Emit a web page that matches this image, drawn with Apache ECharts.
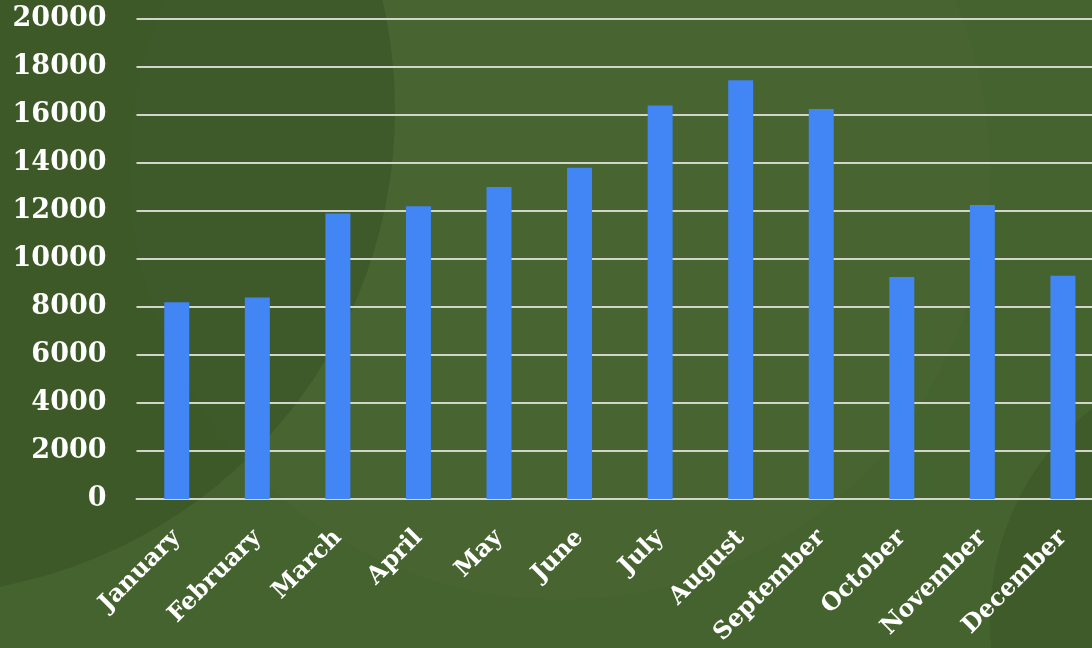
<!DOCTYPE html>
<html>
<head>
<meta charset="utf-8">
<script src="https://cdn.jsdelivr.net/npm/echarts@6/dist/echarts.min.js"></script>
<style>
html,body{margin:0;padding:0;background:#45632f;}
#chart{width:1092px;height:648px;}
</style>
</head>
<body>
<div id="chart"></div>
<script>
var categories = ["January","February","March","April","May","June","July","August","September","October","November","December"];
var values = [8200, 8400, 11900, 12200, 13000, 13800, 16400, 17450, 16250, 9250, 12250, 9300];
var yTicks = [0, 2000, 4000, 6000, 8000, 10000, 12000, 14000, 16000, 18000, 20000];

var chart = echarts.init(document.getElementById('chart'));
var fontFam = '"DejaVu Serif", "Liberation Serif", serif';
chart.setOption({
  backgroundColor: '#45632f',
  animation: false,
  graphic: [
    { type: 'circle', z: -10, silent: true, shape: { cx: 560, cy: 170, r: 430 }, style: { fill: 'rgba(255,255,255,0.012)' } },
    { type: 'circle', z: -9, silent: true, shape: { cx: -90, cy: 110, r: 485 }, style: { fill: 'rgba(25,45,10,0.18)' } },
    { type: 'circle', z: -9, silent: true, shape: { cx: 1260, cy: 620, r: 270 }, style: { fill: 'rgba(25,45,10,0.14)' } }
  ],
  grid: { left: 136.5, width: 966.7, top: 19, height: 480, containLabel: false, outerBoundsMode: 'none' },
  xAxis: {
    type: 'category',
    data: categories,
    axisLine: { show: true, lineStyle: { color: '#d4d4cc', width: 2 } },
    axisTick: { show: false },
    axisLabel: {
      rotate: 45,
      interval: 0,
      margin: 35,
      color: '#ffffff',
      fontFamily: fontFam,
      fontWeight: 'bold',
      fontSize: 24
    }
  },
  yAxis: {
    type: 'value',
    min: 0,
    max: 20000,
    interval: 2000,
    axisLine: { show: false },
    axisTick: { show: false },
    splitLine: { lineStyle: { color: '#d4d4cc', width: 2 } },
    axisLabel: {
      margin: 30,
      color: '#ffffff',
      fontFamily: fontFam,
      fontWeight: 'bold',
      fontSize: 27,
      formatter: function (v) { return yTicks.indexOf(v) >= 0 ? String(v) : ''; }
    }
  },
  series: [{
    type: 'bar',
    data: values,
    barWidth: 25,
    itemStyle: { color: '#4285F4' }
  }]
});
</script>
</body>
</html>
